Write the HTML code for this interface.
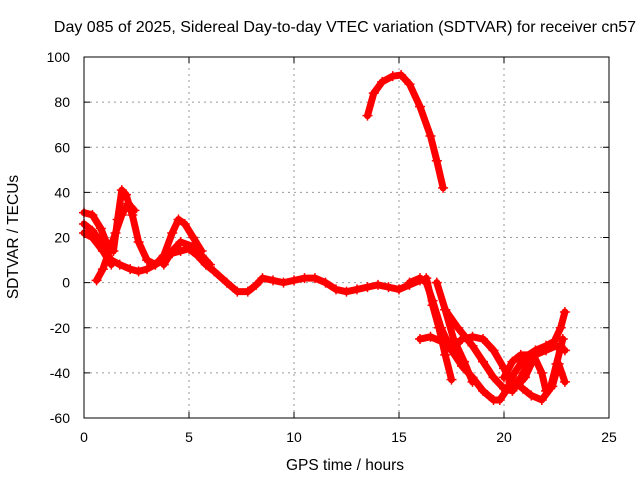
<!DOCTYPE html>
<html><head><meta charset="utf-8"><style>
body{margin:0;background:#fff;}
svg{display:block;font-family:"Liberation Sans",sans-serif;}
</style></head><body>
<svg id="chart" width="640" height="480">
<text x="345" y="32" font-size="16" text-anchor="middle">Day 085 of 2025, Sidereal Day-to-day VTEC variation (SDTVAR) for receiver cn57</text>
<text x="345" y="470" font-size="15.5" text-anchor="middle">GPS time / hours</text>
<text transform="translate(18,237) rotate(-90)" font-size="15.5" text-anchor="middle">SDTVAR / TECUs</text>
<g id="grid"></g><g id="ticks"></g><g id="series"></g>
<rect x="84" y="57" width="525" height="361" fill="none" stroke="#000" stroke-width="1"/>
</svg>
<script>
const xTicks=[0,5,10,15,20,25];
const yTicks=[-60,-40,-20,0,20,40,60,80,100];
const trackA=[[13.5,74],[13.8,84],[14.2,89],[14.7,91.5],[15.1,92],[15.5,88],[16,78],[16.5,65],[16.8,54],[17.1,42]];
const trackB=[[0,31],[0.4,30],[0.8,24],[1.1,17],[1.4,14],[1.6,28],[1.8,41],[2.0,39],[2.3,30],[2.6,18],[3.0,10],[3.4,8],[3.8,12],[4.2,22],[4.5,28],[4.8,26],[5.2,20],[5.6,14]];
const trackC=[[0,26],[0.4,23],[0.8,18],[1.0,14],[1.3,10],[1.7,8],[2.2,6],[2.6,5],[3.0,6],[3.4,8],[3.8,10],[4.2,13],[4.6,14],[5.0,15],[5.4,12],[5.8,8],[6.2,5],[6.8,0],[7.3,-4],[7.8,-4],[8.2,-1],[8.5,2],[9,1],[9.5,0],[10,1],[10.5,2],[11,2],[11.5,0],[12,-3],[12.5,-4],[13,-3],[13.5,-2],[14,-1],[14.5,-2],[15,-3],[15.5,-1],[16,1]];
const trackD=[[0.6,1],[0.9,6],[1.2,14],[1.5,22],[1.8,30],[2.1,35],[2.4,32]];
const trackE=[[0,22],[0.4,20],[0.9,14],[1.3,8]];
const trackF=[[3.8,8],[4.2,14],[4.6,18],[5.2,16],[5.6,12],[6.0,8]];
const trackG=[[15.5,0],[16,2],[16.3,0],[16.6,-8],[17,-20],[17.5,-30],[18,-37],[18.5,-42],[19,-48],[19.5,-52],[19.8,-52],[20.1,-48],[20.5,-40],[21,-33],[21.5,-30],[22,-28],[22.4,-26],[22.7,-20],[22.9,-13]];
const trackH=[[16.3,2],[16.6,-10],[16.9,-20],[17.2,-32],[17.5,-43]];
const trackI=[[16.8,0],[17.2,-12],[17.6,-25],[18.1,-35],[18.5,-44]];
const trackJ=[[16,-25],[16.5,-24],[17,-26],[17.5,-30],[18,-25],[18.5,-24],[19,-25],[19.5,-30],[20,-38],[20.3,-44],[20.6,-46],[21,-42],[21.5,-32],[22,-30],[22.5,-28],[22.9,-30]];
const trackK=[[17.2,-12],[17.8,-20],[18.5,-28],[19,-35],[19.5,-42],[20,-47],[20.4,-48],[20.8,-42],[21.2,-35]];
const trackL=[[20,-42],[20.4,-35],[20.8,-32],[21.4,-32],[21.8,-40],[22,-48],[22.3,-46],[22.6,-36],[22.9,-44]];
const trackM=[[20.5,-44],[20.9,-47],[21.3,-50],[21.8,-52],[22.2,-47],[22.5,-36],[22.8,-25]];
const tracks=[trackA,trackB,trackC,trackD,trackE,trackF,trackG,trackH,trackI,trackJ,trackK,trackL,trackM];
const NS='http://www.w3.org/2000/svg';
const X0=84,X1=609,Y0=418,Y1=57;
function sx(t){return X0+(t-0)/(25-0)*(X1-X0);}
function sy(v){return Y0-(v+60)/(160)*(Y0-Y1);}
function mk(tag,attrs,parent){const e=document.createElementNS(NS,tag);for(const k in attrs)e.setAttribute(k,attrs[k]);parent.appendChild(e);return e;}
const grid=document.getElementById('grid'),ticks=document.getElementById('ticks'),ser=document.getElementById('series');
xTicks.forEach(t=>{
 const x=sx(t);
 if(t>0&&t<25){const g=mk('line',{x1:x,x2:x,y1:Y0,y2:Y1,stroke:'#999','stroke-dasharray':'2,4'},grid);
 
 }
 mk('line',{x1:x,x2:x,y1:Y0,y2:Y0-6,stroke:'#000'},ticks);
 mk('line',{x1:x,x2:x,y1:Y1,y2:Y1+6,stroke:'#000'},ticks);
 const l=mk('text',{x:x,y:Y0+24,'font-size':14,'text-anchor':'middle'},ticks);l.textContent=t;
 
 
});
yTicks.forEach(v=>{
 const y=sy(v);
 if(v>-60&&v<100){const g=mk('line',{x1:X0,x2:X1,y1:y,y2:y,stroke:'#999','stroke-dasharray':'2,4'},grid);
 
 }
 mk('line',{x1:X0,x2:X0+6,y1:y,y2:y,stroke:'#000'},ticks);
 mk('line',{x1:X1,x2:X1-6,y1:y,y2:y,stroke:'#000'},ticks);
 const l=mk('text',{x:X0-14,y:y+5,'font-size':14,'text-anchor':'end'},ticks);l.textContent=v;
 
 
});
tracks.forEach((tr,i)=>{
 const p=mk('polyline',{points:tr.map(d=>sx(d[0])+','+sy(d[1])).join(' '),fill:'none',stroke:'#f00','stroke-width':7,'stroke-linejoin':'round','stroke-linecap':'round'},ser);
 
 
 tr.forEach(d=>{const x=sx(d[0]),y=sy(d[1]);
  mk('path',{d:`M${x-5},${y}H${x+5}M${x},${y-5}V${y+5}`,stroke:'#f00','stroke-width':1.5},ser);});
});
</script>
</body></html>
